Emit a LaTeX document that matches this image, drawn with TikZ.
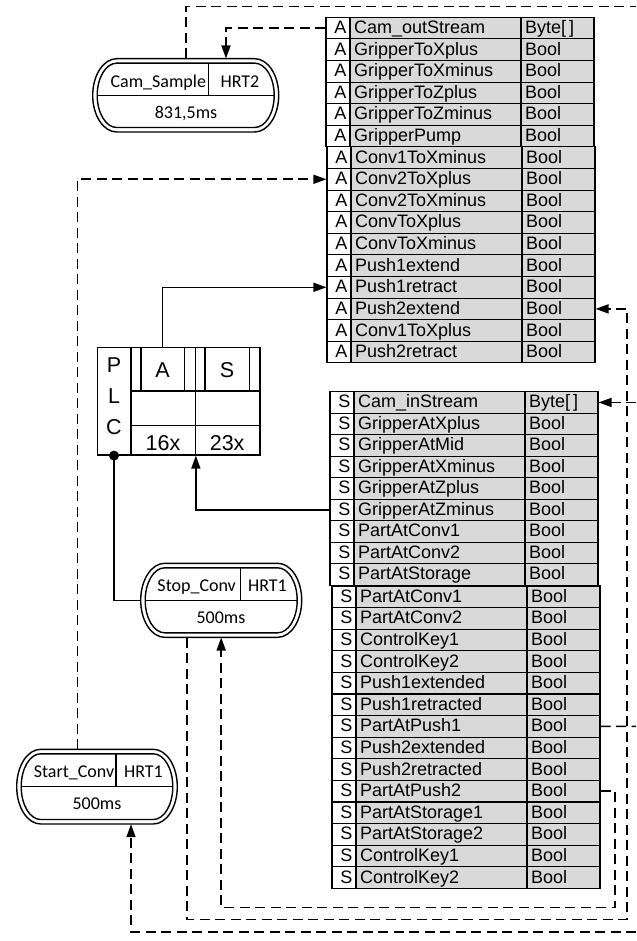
\documentclass[tikz,border=0pt]{standalone}
\usepackage{fontspec}
\setmainfont{Liberation Sans}
\newfontfamily\calfont{Carlito}
\usetikzlibrary{arrows.meta,calc}
\definecolor{cellgray}{RGB}{217,217,217}

% one row of a signal table: prefix, letter, left x, top y, row height, name, type
\newcommand\iorow[7]{%
  \node[tagcell,  minimum height=#5pt] (#1-t) at ({#3+12},{#4+#5/2}) {#2};
  \node[namecell, minimum height=#5pt] (#1-n) at ({#3+109.5},{#4+#5/2}) {#6};
  \node[typecell, minimum height=#5pt] (#1-y) at ({#3+231.5},{#4+#5/2}) {#7};
}

% double-lined task oval: left x, top y, width, height, x of the upper divider
\newcommand\taskoutline[5]{%
  \pgfmathsetmacro\ovxr{#1+#3}
  \pgfmathsetmacro\ovyb{#2+#4}
  \pgfmathsetmacro\ovyc{#2+#4/2}
  \pgfmathsetmacro\ovr{#4/2}
  \pgfmathsetmacro\ovri{#4/2-4.5}
  \draw[taskline] ({#1+24},{#2}) -- ({\ovxr-24},{#2})
    arc[start angle=90,end angle=-90,x radius=24pt,y radius=\ovr pt]
    -- ({#1+24},{\ovyb})
    arc[start angle=270,end angle=90,x radius=24pt,y radius=\ovr pt] -- cycle;
  \draw[taskline] ({#1+24},{#2+4.5}) -- ({\ovxr-24},{#2+4.5})
    arc[start angle=90,end angle=-90,x radius=19.5pt,y radius=\ovri pt]
    -- ({#1+24},{\ovyb-4.5})
    arc[start angle=270,end angle=90,x radius=19.5pt,y radius=\ovri pt] -- cycle;
  \draw[taskline] ({#1+4.5},{\ovyc}) -- ({\ovxr-4.5},{\ovyc});
  \draw[taskline] ({#5},{#2+4.5}) -- ({#5},{\ovyc});
}

\begin{document}
\begin{tikzpicture}[x=1pt, y=-1pt,
  every node/.style={inner sep=0pt},
  cell/.style={draw, line width=1.1pt, inner ysep=0pt, text height=14pt, text depth=3pt,
    font=\fontsize{18}{20}\selectfont},
  tagcell/.style={cell, fill=white, text width=17pt, inner xsep=3.5pt, align=right},
  namecell/.style={cell, fill=cellgray, text width=163pt, inner xsep=4pt, align=left},
  typecell/.style={cell, fill=cellgray, text width=65pt, inner xsep=4pt, align=left},
  taskline/.style={line width=1.4pt},
  tasktext/.style={anchor=base, font=\calfont\fontsize{18}{20}\selectfont},
  taskanchor/.style={rectangle, inner sep=0pt},
  plcbox/.style={draw, line width=1.2pt, rectangle, inner sep=0pt},
  plcline/.style={line width=1.2pt},
  plctext/.style={anchor=base, font=\fontsize{21.5}{24}\selectfont},
  wire/.style={line width=1.6pt},
  dashwire/.style={line width=1.6pt, dash pattern=on 10pt off 5.5pt},
  arrowend/.style={-{Triangle[length=13pt,width=9pt]}},
]
\fill[white] (0,0) rectangle (636,941);

% ---------- output table (A) ----------
\foreach \rk/\rn/\rt in {1/{Cam\_outStream}/{Byte[\,]}, 2/GripperToXplus/Bool,
    3/GripperToXminus/Bool, 4/GripperToZplus/Bool, 5/GripperToZminus/Bool,
    6/GripperPump/Bool}{
  \pgfmathsetmacro\rtop{17.3+(\rk-1)*21.6}
  \iorow{A\rk}{A}{326}{\rtop}{21.6}{\rn}{\rt}
}
\foreach \rk/\rn/\rt in {7/Conv1ToXminus/Bool, 8/Conv2ToXplus/Bool,
    9/Conv2ToXminus/Bool, 10/ConvToXplus/Bool, 11/ConvToXminus/Bool,
    12/Push1extend/Bool, 13/Push1retract/Bool, 14/Push2extend/Bool,
    15/Conv1ToXplus/Bool, 16/Push2retract/Bool}{
  \pgfmathsetmacro\rtop{146.9+(\rk-7)*21.6}
  \iorow{A\rk}{A}{327}{\rtop}{21.6}{\rn}{\rt}
}

% ---------- input table (S) ----------
\foreach \rk/\rn/\rt in {1/{Cam\_inStream}/{Byte[\,]}, 2/GripperAtXplus/Bool,
    3/GripperAtMid/Bool, 4/GripperAtXminus/Bool, 5/GripperAtZplus/Bool,
    6/GripperAtZminus/Bool, 7/PartAtConv1/Bool, 8/PartAtConv2/Bool,
    9/PartAtStorage/Bool}{
  \pgfmathsetmacro\rtop{391.7+(\rk-1)*21.5}
  \iorow{S\rk}{S}{330}{\rtop}{21.5}{\rn}{\rt}
}
\foreach \rk/\rn/\rt in {10/PartAtConv1/Bool, 11/PartAtConv2/Bool,
    12/ControlKey1/Bool, 13/ControlKey2/Bool, 14/Push1extended/Bool,
    15/Push1retracted/Bool, 16/PartAtPush1/Bool, 17/Push2extended/Bool,
    18/Push2retracted/Bool, 19/PartAtPush2/Bool, 20/PartAtStorage1/Bool,
    21/PartAtStorage2/Bool, 22/ControlKey1/Bool, 23/ControlKey2/Bool}{
  \pgfmathsetmacro\rtop{586+(\rk-10)*21.6}
  \iorow{S\rk}{S}{332}{\rtop}{21.6}{\rn}{\rt}
}

% ---------- PLC block ----------
\node[plcbox, minimum width=32.6pt, minimum height=107.3pt] (plc) at (114,401.35) {};
\node[plcbox, minimum width=128.3pt, minimum height=107.3pt] (plcR) at (195.85,401.35) {};
\draw[plcline] (plcR.north) -- (plcR.south);
\draw[plcline] (plcR.west |- 0,391) -- (plcR.east |- 0,391);
\draw[plcline] (plcR.west |- 0,425.7) -- (plcR.east |- 0,425.7);
\node[plcbox, minimum width=43.3pt, minimum height=43.3pt] (plcA) at (162.65,369.35) {};
\node[plcbox, minimum width=44.3pt, minimum height=43.3pt] (plcS) at (227.15,369.35) {};
\node[plctext] at (114,372) {P};
\node[plctext] at (114,403) {L};
\node[plctext] at (114,434.5) {C};
\node[plctext] at (plcA.center |- 0,377.5) {A};
\node[plctext] at (plcS.center |- 0,377.5) {S};
\node[plctext] at (163,450.5) {16x};
\node[plctext] at (227.15,450.5) {23x};

% ---------- tasks ----------
\node[taskanchor, minimum width=186pt, minimum height=73.3pt] (cams) at (185.7,95.35) {};
\taskoutline{92.7}{58.7}{186}{73.3}{208.3}
\node[tasktext] at (158.3,87.3) {Cam\_Sample};
\node[tasktext] at (240,87.3) {HRT2};
\node[tasktext] at (186,118.8) {831,5ms};

\node[taskanchor, minimum width=161pt, minimum height=74pt] (stopc) at (221.2,600.3) {};
\taskoutline{140.7}{563.3}{161}{74}{240.7}
\node[tasktext] at (196.7,591.7) {Stop\_Conv};
\node[tasktext] at (267.5,591.7) {HRT1};
\node[tasktext] at (221,623.3) {500ms};

\node[taskanchor, minimum width=160.6pt, minimum height=74.7pt] (startc) at (97,786.65) {};
\taskoutline{16.7}{749.3}{160.6}{74.7}{116}
\node[tasktext] at (74,777.5) {Start\_Conv};
\node[tasktext] at (143.5,777.5) {HRT1};
\node[tasktext] at (97,809.3) {500ms};

% ---------- solid wires ----------
\draw[wire, arrowend] (plcA.north) |- (A13-t.west);
\draw[wire, arrowend] (S6-t.west) -| (plcR.south);
\draw[wire] (plc.south) |- (stopc.west);
\fill (plc.south) circle (5pt);

% ---------- dashed wires ----------
\coordinate (outTop) at (636,6.7);
\coordinate (inBot) at (636,931.7);
\coordinate (inCam) at (636,402.45);
\coordinate (outP1) at (636,726.4);
\coordinate (busA) at (627,919.3);
\coordinate (busB) at (615,907.5);

\draw[dashwire] (cams.north) |- (outTop);
\draw[dashwire, arrowend] (A1-t.west) -| ([xshift=40.3pt]cams.north);
\draw[dashwire, arrowend] ([xshift=-19.7pt]startc.north) |- (A8-t.west);
\draw[dashwire, arrowend] (inBot) -| ([xshift=34pt]startc.south);
\draw[dashwire, arrowend] ([xshift=-34pt]stopc.south) |- (busA) |- (A14-y.east);
\draw[dashwire, arrowend] (S19-y.east) -| (busB) -| (stopc.south);
\draw[dashwire] (S16-y.east) -- (outP1);
\draw[dashwire, arrowend] (inCam) -- (S1-y.east);
\end{tikzpicture}
\end{document}
